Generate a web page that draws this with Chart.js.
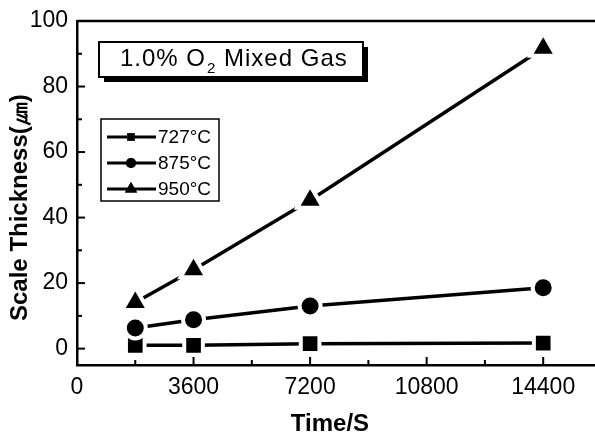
<!DOCTYPE html>
<html>
<head>
<meta charset="utf-8">
<script src="https://cdn.jsdelivr.net/npm/chart.js@4/dist/chart.umd.min.js"></script>
<style>
html,body{margin:0;padding:0;background:#fff;}
#wrap{width:595px;height:434px;position:relative;}
</style>
</head>
<body>
<div id="wrap"><canvas id="c" width="595" height="434"></canvas></div>
<script>
const timeValues = [1800, 3600, 7200, 14400];
const seriesLabels = ['727°C', '875°C', '950°C'];
const thickness727 = [1.0, 1.0, 1.5, 1.7];
const thickness875 = [6.3, 8.8, 13.0, 18.6];
const thickness950 = [14.1, 24.1, 45.3, 91.7];
const xTickValues = [0, 3600, 7200, 10800, 14400];
const xMinorTicks = [1800, 5400, 9000, 12600];
const yTickValues = [0, 20, 40, 60, 80, 100];
const yMinorTicks = [10, 30, 50, 70, 90];
const boxTitle = ['1.0% O', '2', ' Mixed Gas'];
const yAxisTitle = 'Scale Thickness(㎛)';
const xAxisTitle = 'Time/S';

const pts = (ys) => timeValues.map((x, i) => ({x: x, y: ys[i]}));
const FONT = '"Liberation Sans", Arial, sans-serif';

const styles = [
  {pointStyle: 'rect', radius: 13.2, legendR: 5.5},
  {pointStyle: 'circle', radius: 10.5, legendR: 5},
  {pointStyle: 'triangle', radius: 15, legendR: 7}
];
const seriesData = [thickness727, thickness875, thickness950];

const datasets = seriesData.map((d, i) => ({
  label: seriesLabels[i],
  data: pts(d),
  borderColor: '#000',
  backgroundColor: '#000',
  borderWidth: 3.5,
  pointStyle: styles[i].pointStyle,
  pointRadius: styles[i].radius,
  pointBackgroundColor: '#000',
  pointBorderColor: '#fff',
  pointBorderWidth: 4,
  pointHoverRadius: styles[i].radius,
  tension: 0,
  clip: false,
  order: 3 - i
}));

const decor = {
  id: 'decor',
  afterDraw(chart) {
    const ctx = chart.ctx;
    const a = chart.chartArea;
    const xs = chart.scales.x, ys = chart.scales.y;
    ctx.save();
    ctx.strokeStyle = '#000';
    ctx.lineWidth = 2.5;
    ctx.beginPath();
    ctx.moveTo(a.left, a.top);
    ctx.lineTo(a.right, a.top);
    ctx.stroke();
    ctx.lineWidth = 2;
    yTickValues.forEach(v => {
      const y = ys.getPixelForValue(v);
      ctx.beginPath(); ctx.moveTo(a.left, y); ctx.lineTo(a.left + 8, y); ctx.stroke();
    });
    yMinorTicks.forEach(v => {
      const y = ys.getPixelForValue(v);
      ctx.beginPath(); ctx.moveTo(a.left, y); ctx.lineTo(a.left + 5, y); ctx.stroke();
    });
    xTickValues.forEach(v => {
      const x = xs.getPixelForValue(v);
      ctx.beginPath(); ctx.moveTo(x, a.bottom); ctx.lineTo(x, a.bottom - 8); ctx.stroke();
    });
    xMinorTicks.forEach(v => {
      const x = xs.getPixelForValue(v);
      ctx.beginPath(); ctx.moveTo(x, a.bottom); ctx.lineTo(x, a.bottom - 5); ctx.stroke();
    });

    // y axis title
    ctx.save();
    ctx.translate(20, 321);
    ctx.rotate(-Math.PI / 2);
    ctx.font = 'bold 24px ' + FONT;
    ctx.fillStyle = '#000';
    ctx.textAlign = 'left';
    ctx.textBaseline = 'middle';
    ctx.fillText(yAxisTitle, 0, 0);
    ctx.restore();

    // x axis title
    ctx.font = 'bold 24px ' + FONT;
    ctx.fillStyle = '#000';
    ctx.textAlign = 'center';
    ctx.textBaseline = 'middle';
    ctx.fillText(xAxisTitle, 330, 424);

    const bx = 99, by = 42, bw = 264, bh = 35;
    ctx.fillStyle = '#000';
    ctx.fillRect(bx + 5, by + 5, bw, bh);
    ctx.fillStyle = '#fff';
    ctx.fillRect(bx, by, bw, bh);
    ctx.lineWidth = 2;
    ctx.strokeRect(bx, by, bw, bh);
    ctx.fillStyle = '#000';
    ctx.textBaseline = 'alphabetic';
    ctx.textAlign = 'left';
    ctx.letterSpacing = '1px';
    let tx = 120;
    ctx.font = '24px ' + FONT;
    ctx.fillText(boxTitle[0], tx, 66);
    tx += ctx.measureText(boxTitle[0]).width;
    ctx.font = '15px ' + FONT;
    ctx.fillText(boxTitle[1], tx + 1, 73);
    tx += ctx.measureText(boxTitle[1]).width + 1;
    ctx.font = '24px ' + FONT;
    ctx.fillText(boxTitle[2], tx, 66);
    ctx.letterSpacing = '0px';

    const lx = 101, ly = 119, lw = 118, lh = 82;
    ctx.fillStyle = '#fff';
    ctx.fillRect(lx, ly, lw, lh);
    ctx.strokeStyle = '#000';
    ctx.lineWidth = 1.5;
    ctx.strokeRect(lx, ly, lw, lh);
    chart.data.datasets.forEach((ds, i) => {
      const cy = 137 + i * 26;
      ctx.lineWidth = 3;
      ctx.strokeStyle = '#000';
      ctx.beginPath(); ctx.moveTo(107, cy); ctx.lineTo(156, cy); ctx.stroke();
      Chart.helpers.drawPoint(ctx, {pointStyle: ds.pointStyle, radius: styles[i].legendR, borderWidth: 0, rotation: 0}, 131, cy);
      ctx.fillStyle = '#000';
      ctx.fill();
      ctx.font = '19px ' + FONT;
      ctx.textBaseline = 'middle';
      ctx.fillText(ds.label, 158, cy + 1);
    });
    ctx.restore();
  }
};

new Chart(document.getElementById('c'), {
  type: 'line',
  data: {datasets: datasets},
  plugins: [decor],
  options: {
    responsive: false,
    animation: false,
    devicePixelRatio: 1,
    layout: {autoPadding: false, padding: {top: 21, right: 0, left: 0, bottom: 0}},
    plugins: {legend: {display: false}, tooltip: {enabled: false}},
    scales: {
      x: {
        type: 'linear',
        min: 0, max: 16000,
        afterBuildTicks(s) { s.ticks = xTickValues.map(v => ({value: v})); },
        afterFit(s) { s.height = 69; s.paddingLeft = 0; s.paddingRight = 0; },
        grid: {display: false, drawTicks: false},
        border: {display: true, color: '#000', width: 2.5},
        ticks: {color: '#000', font: {family: FONT, size: 23}, padding: 9, maxRotation: 0, autoSkip: false,
          callback: v => String(v)},
        title: {display: false}
      },
      y: {
        type: 'linear',
        min: -5, max: 100,
        afterBuildTicks(s) { s.ticks = yTickValues.map(v => ({value: v})); },
        afterFit(s) { s.width = 77; s.paddingTop = 0; s.paddingBottom = 0; },
        grid: {display: false, drawTicks: false},
        border: {display: true, color: '#000', width: 2.5},
        ticks: {color: '#000', font: {family: FONT, size: 23}, padding: 9, callback: v => String(v)},
        title: {display: false}
      }
    }
  }
});
</script>
</body>
</html>
